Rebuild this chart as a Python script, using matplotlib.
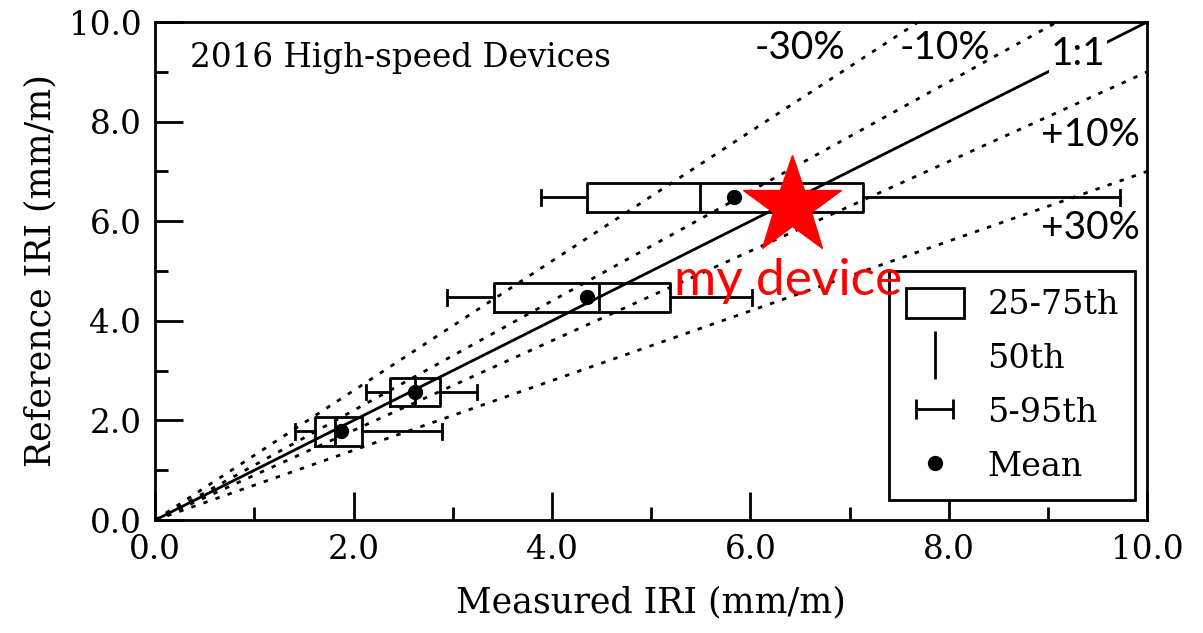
import numpy as np
import matplotlib
matplotlib.use("Agg")
import matplotlib.pyplot as plt
from matplotlib.patches import Patch
from matplotlib.lines import Line2D
from matplotlib.legend_handler import HandlerErrorbar

# Box-plot statistics per IRI group (measured IRI on x, reference IRI on y)
ref_iri = [1.78, 2.57, 4.47, 6.48]
p05 = [1.41, 2.13, 2.94, 3.89]
q25 = [1.61, 2.37, 3.42, 4.35]
med = [1.81, 2.62, 4.47, 5.49]
q75 = [2.08, 2.87, 5.19, 7.14]
p95 = [2.89, 3.24, 6.02, 9.73]
mean = [1.875, 2.62, 4.35, 5.83]

# percentage bands around the 1:1 line
band_labels = ["-30%", "-10%", "+10%", "+30%"]
band_slopes = [1.3, 1.1, 0.9, 0.7]
band_label_pos = [(6.5, 9.48), (7.96, 9.48), (9.43, 7.73), (9.43, 5.86)]

my_device = (6.42, 6.30)

serif = "DejaVu Serif"
sans = "Lato"
plt.rcParams["font.family"] = serif
LW = 2.0

fig = plt.figure(figsize=(12.03, 6.33), dpi=100)
ax = fig.add_axes([0.129, 0.1785, 0.8246, 0.7867])

xs = np.array([0.0, 10.0])
for s in band_slopes:
    ax.plot(xs, s * xs, color="black", lw=LW, linestyle=(0, (1.6, 3)), zorder=1)
ax.plot(xs, xs, color="black", lw=LW, zorder=1)

stats = []
for i in range(len(ref_iri)):
    stats.append(dict(whislo=p05[i], q1=q25[i], med=med[i], q3=q75[i],
                      whishi=p95[i], mean=mean[i], fliers=[]))
ax.bxp(stats, positions=ref_iri, widths=0.58, orientation="horizontal",
       showmeans=True, manage_ticks=False,
       boxprops=dict(color="black", lw=LW),
       medianprops=dict(color="black", lw=LW),
       whiskerprops=dict(color="black", lw=LW),
       capprops=dict(color="black", lw=LW),
       meanprops=dict(marker="o", markerfacecolor="black",
                      markeredgecolor="black", markersize=10))

ax.plot(*my_device, marker="*", color="red", markersize=74, zorder=5)
ax.text(6.38, 4.8, "my device", color="red", fontsize=37, family=sans,
        ha="center", va="center", zorder=6)

ax.text(0.35, 9.28, "2016 High-speed Devices", fontsize=23.5, va="center")
for lab, (bx, by) in zip(band_labels, band_label_pos):
    ax.text(bx, by, lab, fontsize=28, family=sans, ha="center", va="center")
ax.text(9.3, 9.35, "1:1", fontsize=28, family=sans, ha="center", va="center",
        bbox=dict(facecolor="white", edgecolor="none", pad=1))

ax.set_xlim(0, 10)
ax.set_ylim(0, 10)
ax.set_xticks(np.arange(0, 11, 2))
ax.set_yticks(np.arange(0, 11, 2))
ax.set_xticks(np.arange(1, 10, 2), minor=True)
ax.set_yticks(np.arange(1, 10, 2), minor=True)
ax.set_xticklabels([f"{v:.1f}" for v in np.arange(0, 11, 2)])
ax.set_yticklabels([f"{v:.1f}" for v in np.arange(0, 11, 2)])
ax.tick_params(which="both", direction="in", width=LW, labelsize=23.5,
               top=False, right=False, pad=10)
ax.tick_params(which="major", length=20)
ax.tick_params(which="minor", length=9.5)
for sp in ax.spines.values():
    sp.set_linewidth(LW)

ax.set_xlabel("Measured IRI (mm/m)", fontsize=25, labelpad=14)
ax.set_ylabel("Reference IRI (mm/m)", fontsize=25, labelpad=8)

# legend handles
box_h = Patch(facecolor="white", edgecolor="black", lw=LW)
med_h = Line2D([], [], marker="|", linestyle="none", color="black",
               markersize=34, markeredgewidth=LW)
eb_h = ax.errorbar([np.nan], [np.nan], xerr=[0.1], fmt="none", ecolor="black",
                   elinewidth=LW, capsize=7, capthick=LW)
mean_h = Line2D([], [], marker="o", linestyle="none", color="black",
                markersize=10)
leg = ax.legend([box_h, med_h, eb_h, mean_h],
                ["25-75th", "50th", "5-95th", "Mean"],
                handler_map={type(eb_h): HandlerErrorbar(xerr_size=0.55)},
                loc="lower right", bbox_to_anchor=(0.988, 0.04),
                borderaxespad=0, fontsize=24, handlelength=1.75,
                handleheight=1.0, labelspacing=0.62, handletextpad=0.7,
                borderpad=0.5, fancybox=False, framealpha=1,
                edgecolor="black")
leg.get_frame().set_linewidth(LW)

fig.savefig("out.png", dpi=100)
